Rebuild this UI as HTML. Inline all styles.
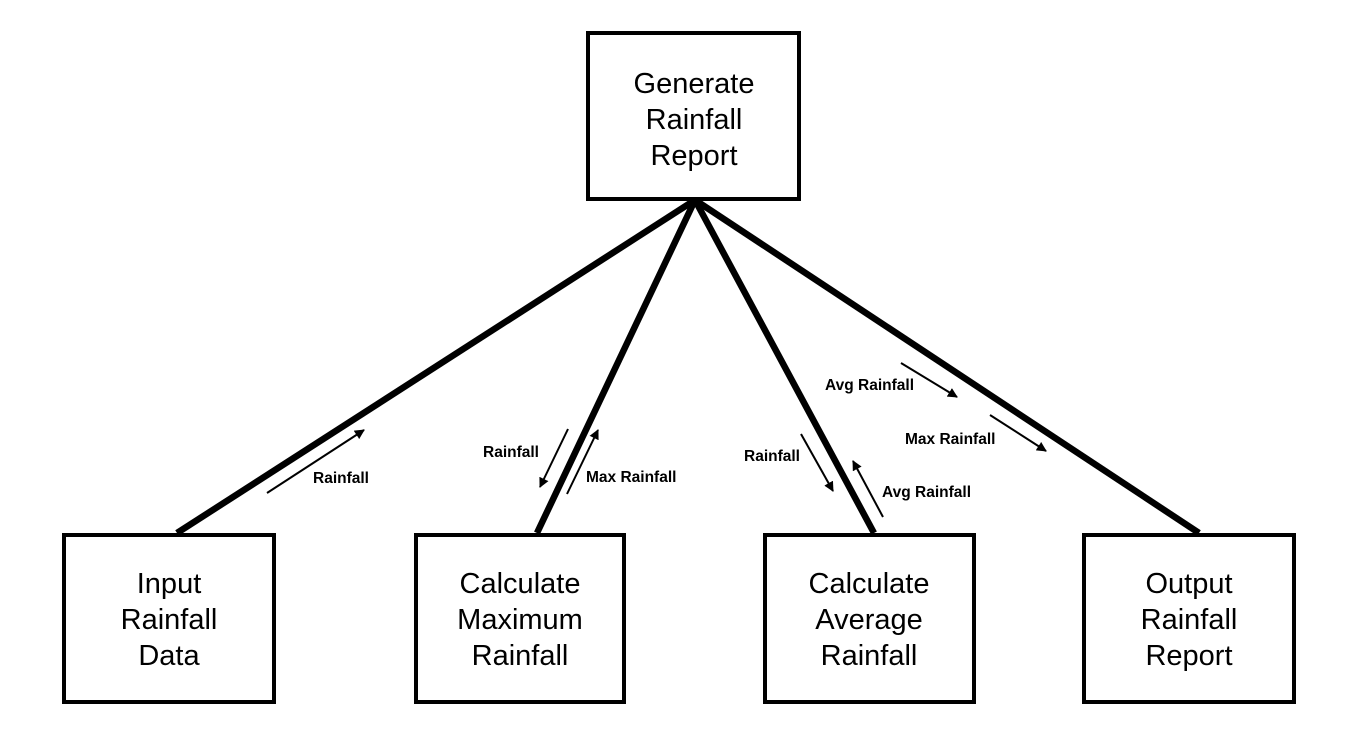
<!DOCTYPE html>
<html><head><style>
html,body{margin:0;padding:0;background:#fff;}
svg{display:block;}
.b{font-family:"Liberation Sans",Arial,sans-serif;font-size:29px;text-anchor:middle;fill:#000;}
.l{font-family:"Liberation Sans",Arial,sans-serif;font-size:15.5px;font-weight:bold;fill:#000;}
</style></head><body>
<svg width="1357" height="741" viewBox="0 0 1357 741" xmlns="http://www.w3.org/2000/svg">
<defs>
<marker id="a" viewBox="0 0 10 10" refX="9" refY="5" markerWidth="10" markerHeight="10" markerUnits="userSpaceOnUse" orient="auto">
<path d="M0,0 L10,5 L0,10 z" fill="#000"/></marker>
</defs>
<g stroke="#000" stroke-width="6.5" fill="none">
<line x1="695" y1="200" x2="177" y2="533"/>
<line x1="695" y1="200" x2="537" y2="533"/>
<line x1="695" y1="200" x2="874" y2="533"/>
<line x1="695" y1="200" x2="1199" y2="533"/>
</g>
<g stroke="#000" stroke-width="4" fill="#fff">
<rect x="588" y="33" width="211" height="166"/>
<rect x="64" y="535" width="210" height="167"/>
<rect x="416" y="535" width="208" height="167"/>
<rect x="765" y="535" width="209" height="167"/>
<rect x="1084" y="535" width="210" height="167"/>
</g>
<text class="b" x="694" y="93">Generate</text>
<text class="b" x="694" y="129">Rainfall</text>
<text class="b" x="694" y="165">Report</text>
<text class="b" x="169" y="593">Input</text>
<text class="b" x="169" y="629">Rainfall</text>
<text class="b" x="169" y="665">Data</text>
<text class="b" x="520" y="593">Calculate</text>
<text class="b" x="520" y="629">Maximum</text>
<text class="b" x="520" y="665">Rainfall</text>
<text class="b" x="869" y="593">Calculate</text>
<text class="b" x="869" y="629">Average</text>
<text class="b" x="869" y="665">Rainfall</text>
<text class="b" x="1189" y="593">Output</text>
<text class="b" x="1189" y="629">Rainfall</text>
<text class="b" x="1189" y="665">Report</text>
<g stroke="#000" stroke-width="2" marker-end="url(#a)">
<line x1="267" y1="493" x2="364" y2="430"/>
<line x1="568" y1="429" x2="540" y2="487"/>
<line x1="567" y1="494" x2="598" y2="430"/>
<line x1="801" y1="434" x2="833" y2="491"/>
<line x1="883" y1="517" x2="853" y2="461"/>
<line x1="901" y1="363" x2="957" y2="397"/>
<line x1="990" y1="415" x2="1046" y2="451"/>
</g>
<text class="l" x="313" y="483">Rainfall</text>
<text class="l" x="483" y="457">Rainfall</text>
<text class="l" x="586" y="482">Max Rainfall</text>
<text class="l" x="744" y="461">Rainfall</text>
<text class="l" x="882" y="497">Avg Rainfall</text>
<text class="l" x="825" y="390">Avg Rainfall</text>
<text class="l" x="905" y="444">Max Rainfall</text>
</svg>
</body></html>
